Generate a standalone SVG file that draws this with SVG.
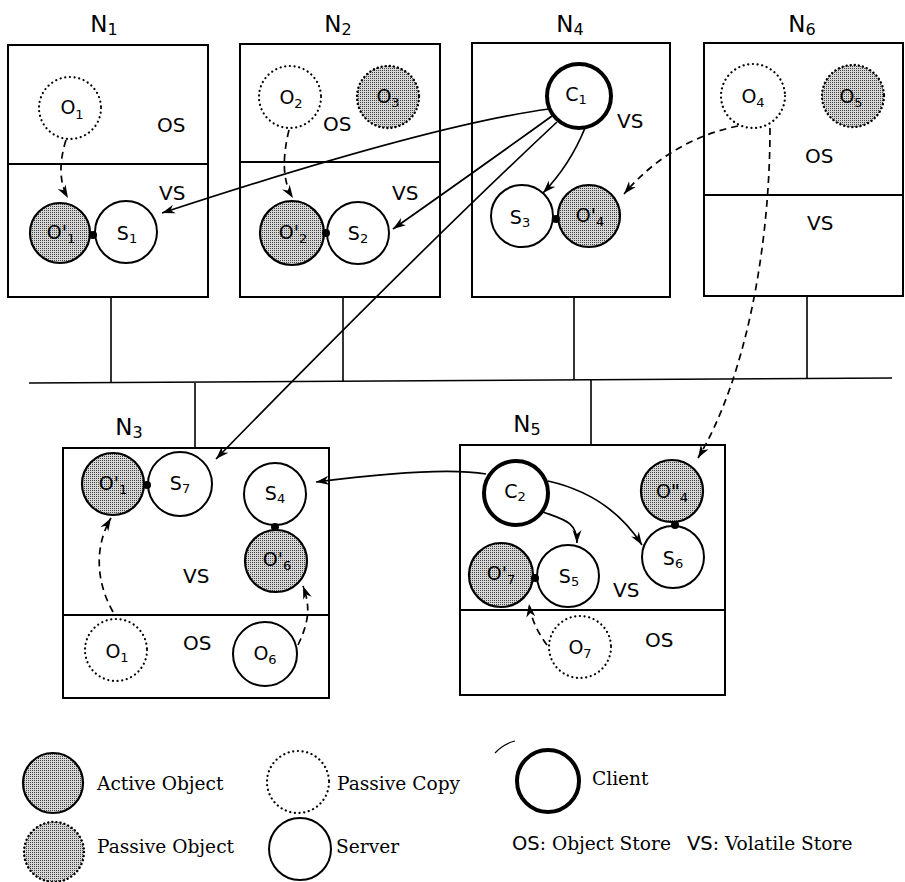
<svg xmlns="http://www.w3.org/2000/svg" width="905" height="882" viewBox="0 0 905 882">
<style>
.box{fill:none;stroke:#000;stroke-width:2}
.div{stroke:#000;stroke-width:2}
.net{stroke:#000;stroke-width:1.6;fill:none}
.srv{fill:#fff;stroke:#000;stroke-width:2}
.cli{fill:#fff;stroke:#000;stroke-width:4}
.act{fill:url(#stip);stroke:#000;stroke-width:2.2}
.pcopy{fill:#fff;stroke:#000;stroke-width:2.2;stroke-dasharray:0.1 4.6;stroke-linecap:round}
.pobj{fill:url(#stip);stroke:#000;stroke-width:2.4;stroke-dasharray:0.1 4;stroke-linecap:round}
.dot{fill:#000}
.lbl{font-family:"DejaVu Sans",sans-serif;font-size:19px;fill:#000;text-anchor:middle}
.sub{font-size:13px}
.nlab{font-family:"DejaVu Sans",sans-serif;font-size:23px;fill:#000;text-anchor:middle}
.nsub{font-size:16px}
.area{font-family:"DejaVu Sans",sans-serif;font-size:20px;fill:#000}
.leg{font-family:"DejaVu Serif",serif;font-size:18.6px;fill:#000}
.legs{font-family:"DejaVu Sans",sans-serif;font-size:19.5px;fill:#000}
.arr{fill:none;stroke:#000;stroke-width:1.7;marker-end:url(#ah)}
.dash{fill:none;stroke:#000;stroke-width:1.7;stroke-dasharray:7 5;marker-end:url(#ah)}
</style>
<defs>
<pattern id="stip" width="2" height="2" patternUnits="userSpaceOnUse">
<rect width="2" height="2" fill="#d6d6d6"/>
<rect width="1" height="1" fill="#444"/>
</pattern>
<marker id="ah" markerWidth="14" markerHeight="10" refX="13" refY="5" orient="auto" markerUnits="userSpaceOnUse">
<path d="M0,0.5 L13,5 L0,9.5 L4,5 Z" fill="#000"/>
</marker>
</defs>
<rect width="905" height="882" fill="#fff"/>

<g id="network">
<path class="net" d="M29,383 L892,378"/>
<path class="net" d="M111,297 L111,383 M343,297 L343,382 M574,297 L574,380 M807,296 L807,378 M195,383 L195,448 M591,380 L591,445"/>
</g>

<g id="N1">
<rect class="box" x="8" y="45" width="200" height="252"/>
<line class="div" x1="8" y1="164" x2="208" y2="164"/>
<text class="nlab" x="104" y="32">N<tspan class="nsub" dy="3">1</tspan></text>
<text class="area" x="157" y="132">OS</text>
<text class="area" x="159" y="200">VS</text>
<circle class="pcopy" cx="70" cy="108" r="31"/>
<text class="lbl" x="72" y="114">O<tspan class="sub" dy="5">1</tspan></text>
<circle class="act" cx="60" cy="233" r="30"/>
<text class="lbl" x="61" y="239">O'<tspan class="sub" dy="4">1</tspan></text>
<circle class="srv" cx="126" cy="232" r="31"/>
<text class="lbl" x="127" y="240">S<tspan class="sub" dy="3">1</tspan></text>
<circle class="dot" cx="93" cy="235" r="4"/>
</g>

<g id="N2">
<rect class="box" x="240" y="44" width="200" height="253"/>
<line class="div" x1="240" y1="162" x2="440" y2="162"/>
<text class="nlab" x="338" y="32">N<tspan class="nsub" dy="3">2</tspan></text>
<text class="area" x="323" y="131">OS</text>
<text class="area" x="392" y="200">VS</text>
<circle class="pcopy" cx="290" cy="97" r="31"/>
<text class="lbl" x="291" y="104">O<tspan class="sub" dy="4">2</tspan></text>
<circle class="pobj" cx="388" cy="97" r="31"/>
<text class="lbl" x="388" y="103">O<tspan class="sub" dy="4">3</tspan></text>
<circle class="act" cx="292" cy="233" r="32"/>
<text class="lbl" x="293" y="239">O'<tspan class="sub" dy="4">2</tspan></text>
<circle class="srv" cx="358" cy="233" r="31"/>
<text class="lbl" x="358" y="240">S<tspan class="sub" dy="3">2</tspan></text>
<circle class="dot" cx="326" cy="233" r="4"/>
</g>

<g id="N4">
<rect class="box" x="472" y="43" width="198" height="254"/>
<text class="nlab" x="570" y="32">N<tspan class="nsub" dy="3">4</tspan></text>
<text class="area" x="617" y="128">VS</text>
<circle class="cli" cx="579" cy="96" r="32"/>
<text class="lbl" x="576" y="101">C<tspan class="sub" dy="3">1</tspan></text>
<circle class="srv" cx="522" cy="216" r="31"/>
<text class="lbl" x="520" y="224">S<tspan class="sub" dy="3">3</tspan></text>
<circle class="act" cx="589" cy="216" r="31"/>
<text class="lbl" x="590" y="222">O'<tspan class="sub" dy="4">4</tspan></text>
<circle class="dot" cx="556" cy="219" r="4"/>
</g>

<g id="N6">
<rect class="box" x="704" y="43" width="199" height="253"/>
<line class="div" x1="704" y1="195" x2="903" y2="195"/>
<text class="nlab" x="802" y="32">N<tspan class="nsub" dy="3">6</tspan></text>
<text class="area" x="805" y="163">OS</text>
<text class="area" x="807" y="230">VS</text>
<circle class="pcopy" cx="753" cy="96" r="32"/>
<text class="lbl" x="753" y="103">O<tspan class="sub" dy="4">4</tspan></text>
<circle class="pobj" cx="853" cy="96" r="31"/>
<text class="lbl" x="851" y="103">O<tspan class="sub" dy="4">5</tspan></text>
</g>

<g id="N3">
<rect class="box" x="63" y="448" width="266" height="250"/>
<line class="div" x1="63" y1="615" x2="329" y2="615"/>
<text class="nlab" x="129" y="435">N<tspan class="nsub" dy="3">3</tspan></text>
<text class="area" x="183" y="583">VS</text>
<text class="area" x="183" y="650">OS</text>
<circle class="act" cx="113" cy="484" r="31"/>
<text class="lbl" x="113" y="490">O'<tspan class="sub" dy="4">1</tspan></text>
<circle class="srv" cx="180" cy="484" r="32"/>
<text class="lbl" x="180" y="490">S<tspan class="sub" dy="3">7</tspan></text>
<circle class="dot" cx="147" cy="485" r="4"/>
<circle class="srv" cx="275" cy="494" r="31"/>
<text class="lbl" x="275" y="500">S<tspan class="sub" dy="3">4</tspan></text>
<circle class="act" cx="276" cy="561" r="31"/>
<text class="lbl" x="277" y="566">O'<tspan class="sub" dy="4">6</tspan></text>
<circle class="dot" cx="275" cy="527" r="4"/>
<circle class="pcopy" cx="116" cy="650" r="31"/>
<text class="lbl" x="117" y="658">O<tspan class="sub" dy="4">1</tspan></text>
<circle class="srv" cx="265" cy="654" r="32"/>
<text class="lbl" x="265" y="660">O<tspan class="sub" dy="4">6</tspan></text>
</g>

<g id="N5">
<rect class="box" x="460" y="445" width="265" height="250"/>
<line class="div" x1="460" y1="610" x2="725" y2="610"/>
<text class="nlab" x="527" y="432">N<tspan class="nsub" dy="3">5</tspan></text>
<text class="area" x="613" y="597">VS</text>
<text class="area" x="645" y="647">OS</text>
<circle class="cli" cx="516" cy="493" r="32"/>
<text class="lbl" x="515" y="498">C<tspan class="sub" dy="3">2</tspan></text>
<circle class="act" cx="672" cy="491" r="31"/>
<text class="lbl" x="672" y="498">O"<tspan class="sub" dy="4">4</tspan></text>
<circle class="srv" cx="673" cy="557" r="31"/>
<text class="lbl" x="673" y="565">S<tspan class="sub" dy="3">6</tspan></text>
<circle class="dot" cx="675" cy="525" r="4"/>
<circle class="act" cx="501" cy="575" r="32"/>
<text class="lbl" x="501" y="580">O'<tspan class="sub" dy="4">7</tspan></text>
<circle class="srv" cx="568" cy="576" r="31"/>
<text class="lbl" x="569" y="583">S<tspan class="sub" dy="3">5</tspan></text>
<circle class="dot" cx="535" cy="578" r="4"/>
<circle class="pcopy" cx="580" cy="647" r="31"/>
<text class="lbl" x="580" y="654">O<tspan class="sub" dy="4">7</tspan></text>
</g>

<g id="connectors">
<path class="arr" d="M549,109 Q430,125 162,213"/>
<path class="arr" d="M552,116 Q470,175 393,229"/>
<path class="arr" d="M557,122 Q420,250 216,459"/>
<path class="arr" d="M585,128 Q570,165 543,193"/>
<path class="dash" d="M738,126 Q670,140 624,194"/>
<path class="dash" d="M770,128 C770,250 745,380 698,458"/>
<path class="dash" d="M66,140 Q55,175 68,198"/>
<path class="dash" d="M289,130 Q278,175 293,198"/>
<path class="dash" d="M113,612 C95,580 95,545 111,518"/>
<path class="dash" d="M298,645 C310,620 310,605 303,586"/>
<path class="arr" d="M486,474 Q440,466 316,482"/>
<path class="arr" d="M543,512 C565,520 577,522 577,543"/>
<path class="arr" d="M548,481 Q610,495 642,545"/>
<path class="dash" d="M547,645 Q532,625 529,604"/>
</g>

<g id="legend">
<circle class="act" cx="53" cy="783" r="30"/>
<text class="leg" x="97" y="790">Active Object</text>
<circle class="pobj" cx="54" cy="852" r="30"/>
<text class="leg" x="97" y="853">Passive Object</text>
<circle class="pcopy" cx="298" cy="782" r="31"/>
<text class="leg" x="337" y="790">Passive Copy</text>
<circle class="srv" cx="300" cy="849" r="31"/>
<text class="leg" x="336" y="853">Server</text>
<circle class="cli" cx="548" cy="781" r="31"/>
<text class="leg" x="592" y="785">Client</text>
<text x="512" y="850"><tspan class="legs">OS</tspan><tspan class="leg">: Object Store</tspan></text>
<text x="687" y="850"><tspan class="legs">VS</tspan><tspan class="leg">: Volatile Store</tspan></text>
<path d="M495,753 Q503,744 515,741" fill="none" stroke="#000" stroke-width="1.2"/>
</g>
</svg>
